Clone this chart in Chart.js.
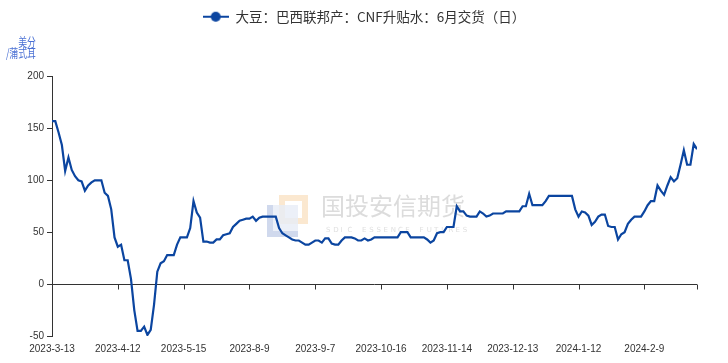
<!DOCTYPE html>
<html>
<head>
<meta charset="utf-8">
<script src="https://cdn.jsdelivr.net/npm/chart.js@4/dist/chart.umd.min.js"></script>
<style>
    html, body { margin: 0; padding: 0; background: #fff; }
    #wrap { width: 728px; height: 363px; position: relative; }
</style>
</head>
<body>
<div id="wrap"><canvas id="chart"></canvas></div>
<script>
// Series name and axis unit
const seriesName = '大豆：巴西联邦产：CNF升贴水：6月交货（日）';
const unitLines = ['美分', '/蒲式耳'];

// Tick labels, one every 20 trading days
const tickLabels = ['2023-3-13', '2023-4-12', '2023-5-15', '2023-8-9', '2023-9-7',
    '2023-10-16', '2023-11-14', '2023-12-13', '2024-1-12', '2024-2-9'];
const tickEvery = 20;

// Daily values (US cents / bushel)
const basisValues = [
    157, 157, 146, 134, 109, 122, 110, 104, 100, 99,
    90, 95, 98, 100, 100, 100, 88, 85, 72, 45,
    36, 38, 23, 23, 5, -25, -45, -45, -41, -49,
    -44, -20, 12, 20, 22, 28, 28, 28, 38, 45,
    45, 45, 54, 80, 69, 64, 41, 41, 40, 40,
    43, 43, 47, 48, 49, 55, 58, 61, 62, 63,
    63, 65, 61, 64, 65, 65, 65, 65, 65, 54,
    49, 47, 45, 43, 42, 42, 40, 38, 38, 40,
    42, 42, 40, 44, 44, 39, 38, 38, 42, 45,
    45, 45, 44, 42, 42, 44, 42, 43, 45, 45,
    45, 45, 45, 45, 45, 45, 50, 50, 50, 45,
    45, 45, 45, 45, 43, 40, 42, 49, 50, 50,
    55, 55, 55, 75, 70, 70, 66, 65, 65, 65,
    70, 68, 65, 66, 68, 68, 68, 68, 70, 70,
    70, 70, 70, 75, 75, 87, 76, 76, 76, 76,
    80, 85, 85, 85, 85, 85, 85, 85, 85, 72,
    65, 70, 69, 66, 57, 60, 65, 67, 67, 56,
    55, 55, 43, 48, 50, 58, 62, 65, 65, 65,
    70, 76, 80, 80, 95, 90, 86, 95, 103, 99,
    102, 115, 129, 115, 115, 135, 130
];

const yTicks = [-50, 0, 50, 100, 150, 200];

const lineColor = '#0b45a0';
const axisColor = '#333';
const tickFont = { family: 'Liberation Sans, Arial, sans-serif', size: 10 };

// Legend marker: short line with a dot in the middle
function makeLegendMarker() {
    const c = document.createElement('canvas');
    c.width = 26;
    c.height = 12;
    const g = c.getContext('2d');
    g.strokeStyle = lineColor;
    g.lineWidth = 2;
    g.beginPath();
    g.moveTo(0, 6);
    g.lineTo(26, 6);
    g.stroke();
    g.fillStyle = lineColor;
    g.beginPath();
    g.arc(13, 6, 5, 0, Math.PI * 2);
    g.fill();
    return c;
}
const legendMarker = makeLegendMarker();

// Zero line with tick marks, watermark and unit label
const decorPlugin = {
    id: 'decor',
    beforeDatasetsDraw(chart) {
        const { ctx, scales } = chart;
        const xs = scales.x;
        const ys = scales.y;
        const y0 = Math.round(ys.getPixelForValue(0)) + 0.5;

        ctx.save();
        // watermark logo
        ctx.fillStyle = 'rgba(248, 214, 170, 0.55)';
        ctx.fillRect(279, 195, 29, 29);
        ctx.fillStyle = '#fff';
        ctx.fillRect(285, 201, 17, 17);
        ctx.fillStyle = 'rgba(170, 186, 222, 0.55)';
        ctx.fillRect(267, 205, 31, 32);
        ctx.fillStyle = 'rgba(255,255,255,0.6)';
        ctx.fillRect(273, 205, 25, 26);

        ctx.fillStyle = '#dcdcdc';
        ctx.font = '24px "Noto Sans CJK SC", sans-serif';
        ctx.textBaseline = 'middle';
        ctx.textAlign = 'left';
        ctx.fillText('国投安信期货', 321, 206);
        ctx.font = '7px "DejaVu Sans", sans-serif';
        ctx.fillStyle = '#e0e0e0';
        const sub = 'SDIC ESSENCE FUTURES';
        let sx = 326;
        for (const ch of sub) {
            ctx.fillText(ch, sx, 230);
            sx += 7.2;
        }

        // zero axis line
        ctx.strokeStyle = axisColor;
        ctx.lineWidth = 1;
        ctx.beginPath();
        ctx.moveTo(xs.left, y0);
        ctx.lineTo(xs.right, y0);
        ctx.stroke();
        xs.ticks.forEach(t => {
            if (t.value === 0) return;
            const px = Math.round(xs.getPixelForValue(t.value)) + 0.5;
            ctx.beginPath();
            ctx.moveTo(px, y0);
            ctx.lineTo(px, y0 + 5);
            ctx.stroke();
        });

        // unit label, narrow and tall like the original
        ctx.fillStyle = '#4a70d4';
        ctx.font = '12px "Noto Sans CJK SC", sans-serif';
        ctx.textAlign = 'right';
        ctx.translate(36, 0);
        ctx.scale(0.74, 1);
        ctx.fillText(unitLines[0], 0, 42);
        ctx.fillText(unitLines[1], 0, 53);
        ctx.restore();
    }
};

let chart;
try {
    const ctx = document.getElementById('chart');
    if (!ctx) {
        throw new Error('Chart canvas element not found');
    }

    chart = new Chart(ctx.getContext('2d'), {
        type: 'line',
        data: {
            datasets: [
                {
                    label: seriesName,
                    data: basisValues.map((v, i) => ({ x: i, y: v })),
                    borderColor: lineColor,
                    backgroundColor: lineColor,
                    borderWidth: 2.2,
                    pointRadius: 0,
                    tension: 0,
                    fill: false
                }
            ]
        },
        options: {
            responsive: true,
            maintainAspectRatio: false,
            animation: false,
            layout: {
                padding: { left: 0, right: 0, top: 0, bottom: 1 }
            },
            scales: {
                x: {
                    type: 'linear',
                    min: 0,
                    max: basisValues.length - 1,
                    afterBuildTicks: s => {
                        const t = tickLabels.map((_, k) => ({ value: k * tickEvery }));
                        t.push({ value: basisValues.length - 1 });
                        s.ticks = t;
                    },
                    grid: { display: false, drawTicks: false },
                    border: { display: false },
                    ticks: {
                        autoSkip: false,
                        maxRotation: 0,
                        padding: 7,
                        color: axisColor,
                        font: tickFont,
                        callback: v => (v % tickEvery === 0 && tickLabels[v / tickEvery]) || ''
                    }
                },
                y: {
                    min: -50,
                    max: 200,
                    afterBuildTicks: s => { s.ticks = yTicks.map(v => ({ value: v })); },
                    afterFit: s => { s.width = 52; },
                    grid: {
                        drawOnChartArea: false,
                        drawTicks: true,
                        tickLength: 5,
                        color: axisColor
                    },
                    border: { display: true, color: axisColor },
                    ticks: {
                        padding: 3,
                        color: axisColor,
                        font: tickFont
                    }
                },
                // empty right axis, only keeps a margin on the right side
                yRight: {
                    position: 'right',
                    min: -50,
                    max: 200,
                    afterFit: s => { s.width = 31; },
                    grid: { display: false, drawTicks: false },
                    border: { display: false },
                    ticks: { display: false }
                }
            },
            plugins: {
                legend: {
                    position: 'top',
                    labels: {
                        usePointStyle: true,
                        pointStyle: legendMarker,
                        pointStyleWidth: 26,
                        padding: 10,
                        color: axisColor,
                        font: { family: '"Noto Sans CJK SC", sans-serif', size: 13.5 },
                        generateLabels: c => [{
                            text: seriesName,
                            pointStyle: legendMarker,
                            fillStyle: lineColor,
                            strokeStyle: lineColor,
                            lineWidth: 0,
                            datasetIndex: 0,
                            fontColor: axisColor
                        }]
                    }
                },
                // empty title used as a spacer between legend and plot
                title: {
                    display: true,
                    text: '',
                    weight: 500,
                    font: { size: 10 },
                    padding: { top: 0, bottom: 31 }
                },
                tooltip: { enabled: false }
            }
        },
        plugins: [decorPlugin]
    });
} catch (error) {
    console.error('Error initializing chart:', error);
}
</script>
</body>
</html>
